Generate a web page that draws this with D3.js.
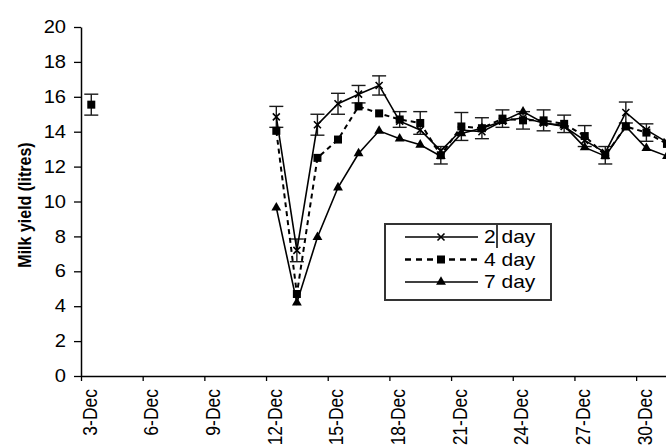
<!DOCTYPE html>
<html>
<head>
<meta charset="utf-8">
<script src="https://cdn.jsdelivr.net/npm/d3@7"></script>
<style>
  html, body { margin: 0; padding: 0; background: #fff; }
  svg { display: block; font-family: "Liberation Sans", Arial, sans-serif; }
</style>
</head>
<body>
<svg id="chart" width="666" height="446"></svg>
<script>
// Days of December (3-Dec .. 31-Dec); null = no observation that day
const days = d3.range(3, 32);
const gap = Array(8).fill(null); // 4-Dec .. 11-Dec

// Mean milk yield (litres)
const twoDay   = [null, ...gap, 14.85, 7.2, 14.4, 15.6, 16.15, 16.65, 14.6, 14.1, 12.9, 14.1, 14.0, 14.6, 14.8, 14.5, 14.3, 13.5, 12.8, 15.1, 14.1, 13.4];
const fourDay  = [15.55, ...gap, 14.05, 4.7, 12.5, 13.55, 15.45, 15.05, 14.7, 14.5, 12.65, 14.3, 14.2, 14.75, 14.65, 14.65, 14.45, 13.75, 12.65, 14.3, 13.95, 13.3];
const sevenDay = [null, ...gap, 9.65, 4.2, 7.95, 10.8, 12.75, 14.05, 13.6, 13.25, 12.6, 13.9, 14.2, 14.6, 15.15, 14.5, 14.35, 13.1, 12.6, 14.3, 13.05, 12.6];

// Standard errors (null = no bar drawn)
const twoDayErr  = [null, ...gap, 0.6, 0.65, 0.6, 0.6, 0.5, 0.55, null, null, null, null, null, null, null, null, null, null, null, 0.6, null, null];
const fourDayErr = [0.6, ...gap, null, null, null, null, null, null, 0.45, 0.65, 0.5, 0.8, 0.6, 0.5, 0.5, 0.6, 0.5, 0.6, 0.5, null, 0.5, null];

const xTickDays = [3, 6, 9, 12, 15, 18, 21, 24, 27, 30];
const yTicks = [0, 2, 4, 6, 8, 10, 12, 14, 16, 18, 20];
const seriesNames = ["2 day", "4 day", "7 day"];

const svg = d3.select("#chart");
const x = d3.scaleLinear().domain([3, 32]).range([81, 81 + 29 * 20.56]);
const y = d3.scaleLinear().domain([0, 20]).range([376, 27]);
const px = d => x(d + 0.5); // points sit in the middle of each day slot

const FS = 17.5;      // base font size
const WIDE = 1.15;    // glyphs are drawn slightly wide

// Y axis
const yAxis = svg.append("g")
  .attr("transform", `translate(${x(3)},0)`)
  .call(d3.axisLeft(y).tickValues(yTicks).tickSize(7).tickPadding(8).tickSizeOuter(0));
yAxis.select(".domain").attr("stroke", "#000").attr("stroke-width", 1.5);
yAxis.selectAll(".tick line").attr("stroke", "#000").attr("stroke-width", 1.3);
yAxis.selectAll("text")
  .attr("font-size", FS).attr("fill", "#000")
  .attr("x", -15 / WIDE)
  .attr("transform", `scale(${WIDE},1)`);

// X axis (runs on past the right edge)
const xAxis = svg.append("g")
  .attr("transform", `translate(0,${y(0)})`)
  .call(d3.axisBottom(x).tickValues(xTickDays).tickSize(5).tickSizeOuter(0).tickFormat(d => `${d}-Dec`));
xAxis.select(".domain").attr("stroke", "#000").attr("stroke-width", 1.5);
xAxis.selectAll(".tick line").attr("stroke", "#000").attr("stroke-width", 1.3);
xAxis.selectAll("text")
  .attr("font-size", FS).attr("fill", "#000")
  .attr("text-anchor", "end")
  .attr("transform", `rotate(-90) scale(1,${WIDE})`)
  .attr("x", -13).attr("y", 8 / WIDE).attr("dy", "0.35em");

// Y axis title
svg.append("text")
  .attr("transform", `translate(31,205) rotate(-90) scale(1,${WIDE})`)
  .attr("text-anchor", "middle")
  .attr("font-size", 16).attr("font-weight", "bold")
  .text("Milk yield (litres)");

const plot = svg.append("g");

const series = [
  { name: seriesNames[0], values: twoDay, err: twoDayErr, dash: null, marker: "x" },
  { name: seriesNames[1], values: fourDay, err: fourDayErr, dash: "5,4", marker: "square" },
  { name: seriesNames[2], values: sevenDay, err: null, dash: null, marker: "triangle" }
];

// Error bars
series.forEach(s => {
  if (!s.err) return;
  const pts = days.map((d, i) => ({ d, v: s.values[i], e: s.err[i] })).filter(p => p.v != null && p.e != null);
  const g = plot.append("g").attr("stroke", "#1a1a1a").attr("stroke-width", 1.4);
  pts.forEach(p => {
    const cx = px(p.d);
    g.append("line").attr("x1", cx).attr("x2", cx).attr("y1", y(p.v + p.e)).attr("y2", y(p.v - p.e));
    [p.v + p.e, p.v - p.e].forEach(v => {
      g.append("line").attr("x1", cx - 7).attr("x2", cx + 7).attr("y1", y(v)).attr("y2", y(v));
    });
  });
});

// Lines
const line = d3.line()
  .defined(p => p.v != null)
  .x(p => px(p.d))
  .y(p => y(p.v));

series.forEach(s => {
  const pts = days.map((d, i) => ({ d, v: s.values[i] }));
  plot.append("path")
    .datum(pts)
    .attr("fill", "none")
    .attr("stroke", "#000")
    .attr("stroke-width", s.dash ? 2 : 1.6)
    .attr("stroke-dasharray", s.dash)
    .attr("d", line);
});

// Markers
function drawMarker(g, type, cx, cy) {
  if (type === "square") {
    g.append("rect").attr("x", cx - 4).attr("y", cy - 4).attr("width", 8).attr("height", 8).attr("fill", "#000");
  } else if (type === "triangle") {
    g.append("path").attr("d", d3.symbol(d3.symbolTriangle, 42)()).attr("transform", `translate(${cx},${cy})`).attr("fill", "#000");
  } else {
    g.append("path").attr("d", `M${cx - 3.5},${cy - 3.5}L${cx + 3.5},${cy + 3.5}M${cx - 3.5},${cy + 3.5}L${cx + 3.5},${cy - 3.5}`)
      .attr("stroke", "#000").attr("stroke-width", 1.6).attr("fill", "none");
  }
}

series.slice().reverse().forEach(s => {
  const g = plot.append("g");
  days.forEach((d, i) => {
    if (s.values[i] != null) drawMarker(g, s.marker, px(d), y(s.values[i]));
  });
});

// Legend
const legend = svg.append("g");
legend.append("rect")
  .attr("x", 385).attr("y", 224).attr("width", 166).attr("height", 76)
  .attr("fill", "#fff").attr("stroke", "#333").attr("stroke-width", 2);
const rowY = [237, 259.5, 282];
series.forEach((s, i) => {
  legend.append("line")
    .attr("x1", 405).attr("x2", 478).attr("y1", rowY[i]).attr("y2", rowY[i])
    .attr("stroke", "#000")
    .attr("stroke-width", s.dash ? 2.6 : 1.5)
    .attr("stroke-dasharray", s.dash ? "6,5" : null);
  drawMarker(legend, s.marker, 441, rowY[i]);
  legend.append("text")
    .attr("transform", `translate(484,${rowY[i]}) scale(1.2,1)`)
    .attr("dy", "0.36em")
    .attr("font-size", FS).attr("fill", "#000")
    .text(s.name);
});
// text caret left in the first legend entry
legend.append("line")
  .attr("x1", 497).attr("x2", 497).attr("y1", 225).attr("y2", 248)
  .attr("stroke", "#000").attr("stroke-width", 1.5);
</script>
</body>
</html>
